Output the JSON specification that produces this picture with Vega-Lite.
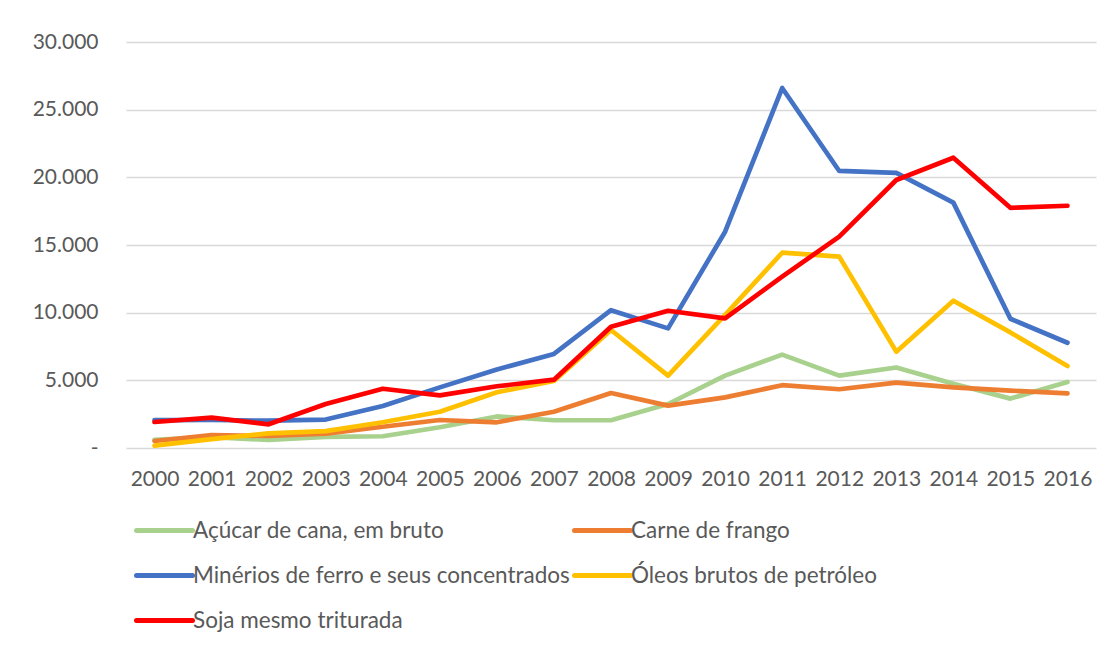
{
  "$schema": "https://vega.github.io/schema/vega-lite/v6.json",
  "autosize": {"type": "none"},
  "width": 970,
  "height": 406,
  "padding": {"left": 126, "top": 42, "right": 16, "bottom": 200},
  "background": "white",
  "config": {
    "font": "Lato",
    "view": {"stroke": null},
    "axis": {"labelFont": "Lato", "labelFontSize": 21, "labelColor": "#595959"}
  },
  "datasets": {
    "exports": [
      {"year": "2000", "product": "Açúcar de cana, em bruto", "value": 600},
      {"year": "2001", "product": "Açúcar de cana, em bruto", "value": 800},
      {"year": "2002", "product": "Açúcar de cana, em bruto", "value": 600},
      {"year": "2003", "product": "Açúcar de cana, em bruto", "value": 820},
      {"year": "2004", "product": "Açúcar de cana, em bruto", "value": 870},
      {"year": "2005", "product": "Açúcar de cana, em bruto", "value": 1530},
      {"year": "2006", "product": "Açúcar de cana, em bruto", "value": 2330},
      {"year": "2007", "product": "Açúcar de cana, em bruto", "value": 2050},
      {"year": "2008", "product": "Açúcar de cana, em bruto", "value": 2050},
      {"year": "2009", "product": "Açúcar de cana, em bruto", "value": 3250},
      {"year": "2010", "product": "Açúcar de cana, em bruto", "value": 5350},
      {"year": "2011", "product": "Açúcar de cana, em bruto", "value": 6900},
      {"year": "2012", "product": "Açúcar de cana, em bruto", "value": 5350},
      {"year": "2013", "product": "Açúcar de cana, em bruto", "value": 5950},
      {"year": "2014", "product": "Açúcar de cana, em bruto", "value": 4750},
      {"year": "2015", "product": "Açúcar de cana, em bruto", "value": 3650},
      {"year": "2016", "product": "Açúcar de cana, em bruto", "value": 4880},
      {"year": "2000", "product": "Carne de frango", "value": 520},
      {"year": "2001", "product": "Carne de frango", "value": 950},
      {"year": "2002", "product": "Carne de frango", "value": 890},
      {"year": "2003", "product": "Carne de frango", "value": 1060},
      {"year": "2004", "product": "Carne de frango", "value": 1570},
      {"year": "2005", "product": "Carne de frango", "value": 2070},
      {"year": "2006", "product": "Carne de frango", "value": 1900},
      {"year": "2007", "product": "Carne de frango", "value": 2680},
      {"year": "2008", "product": "Carne de frango", "value": 4060},
      {"year": "2009", "product": "Carne de frango", "value": 3130},
      {"year": "2010", "product": "Carne de frango", "value": 3740},
      {"year": "2011", "product": "Carne de frango", "value": 4640},
      {"year": "2012", "product": "Carne de frango", "value": 4340},
      {"year": "2013", "product": "Carne de frango", "value": 4830},
      {"year": "2014", "product": "Carne de frango", "value": 4480},
      {"year": "2015", "product": "Carne de frango", "value": 4240},
      {"year": "2016", "product": "Carne de frango", "value": 4040},
      {"year": "2000", "product": "Minérios de ferro e seus concentrados", "value": 2060},
      {"year": "2001", "product": "Minérios de ferro e seus concentrados", "value": 2070},
      {"year": "2002", "product": "Minérios de ferro e seus concentrados", "value": 2020},
      {"year": "2003", "product": "Minérios de ferro e seus concentrados", "value": 2100},
      {"year": "2004", "product": "Minérios de ferro e seus concentrados", "value": 3100},
      {"year": "2005", "product": "Minérios de ferro e seus concentrados", "value": 4480},
      {"year": "2006", "product": "Minérios de ferro e seus concentrados", "value": 5800},
      {"year": "2007", "product": "Minérios de ferro e seus concentrados", "value": 6950},
      {"year": "2008", "product": "Minérios de ferro e seus concentrados", "value": 10180},
      {"year": "2009", "product": "Minérios de ferro e seus concentrados", "value": 8840},
      {"year": "2010", "product": "Minérios de ferro e seus concentrados", "value": 15980},
      {"year": "2011", "product": "Minérios de ferro e seus concentrados", "value": 26600},
      {"year": "2012", "product": "Minérios de ferro e seus concentrados", "value": 20470},
      {"year": "2013", "product": "Minérios de ferro e seus concentrados", "value": 20330},
      {"year": "2014", "product": "Minérios de ferro e seus concentrados", "value": 18130},
      {"year": "2015", "product": "Minérios de ferro e seus concentrados", "value": 9550},
      {"year": "2016", "product": "Minérios de ferro e seus concentrados", "value": 7780},
      {"year": "2000", "product": "Óleos brutos de petróleo", "value": 170},
      {"year": "2001", "product": "Óleos brutos de petróleo", "value": 650},
      {"year": "2002", "product": "Óleos brutos de petróleo", "value": 1080},
      {"year": "2003", "product": "Óleos brutos de petróleo", "value": 1250},
      {"year": "2004", "product": "Óleos brutos de petróleo", "value": 1900},
      {"year": "2005", "product": "Óleos brutos de petróleo", "value": 2680},
      {"year": "2006", "product": "Óleos brutos de petróleo", "value": 4120},
      {"year": "2007", "product": "Óleos brutos de petróleo", "value": 4950},
      {"year": "2008", "product": "Óleos brutos de petróleo", "value": 8720},
      {"year": "2009", "product": "Óleos brutos de petróleo", "value": 5350},
      {"year": "2010", "product": "Óleos brutos de petróleo", "value": 9830},
      {"year": "2011", "product": "Óleos brutos de petróleo", "value": 14430},
      {"year": "2012", "product": "Óleos brutos de petróleo", "value": 14140},
      {"year": "2013", "product": "Óleos brutos de petróleo", "value": 7120},
      {"year": "2014", "product": "Óleos brutos de petróleo", "value": 10880},
      {"year": "2015", "product": "Óleos brutos de petróleo", "value": 8540},
      {"year": "2016", "product": "Óleos brutos de petróleo", "value": 6060},
      {"year": "2000", "product": "Soja mesmo triturada", "value": 1920},
      {"year": "2001", "product": "Soja mesmo triturada", "value": 2250},
      {"year": "2002", "product": "Soja mesmo triturada", "value": 1750},
      {"year": "2003", "product": "Soja mesmo triturada", "value": 3250},
      {"year": "2004", "product": "Soja mesmo triturada", "value": 4380},
      {"year": "2005", "product": "Soja mesmo triturada", "value": 3890},
      {"year": "2006", "product": "Soja mesmo triturada", "value": 4560},
      {"year": "2007", "product": "Soja mesmo triturada", "value": 5050},
      {"year": "2008", "product": "Soja mesmo triturada", "value": 8960},
      {"year": "2009", "product": "Soja mesmo triturada", "value": 10140},
      {"year": "2010", "product": "Soja mesmo triturada", "value": 9580},
      {"year": "2011", "product": "Soja mesmo triturada", "value": 12660},
      {"year": "2012", "product": "Soja mesmo triturada", "value": 15620},
      {"year": "2013", "product": "Soja mesmo triturada", "value": 19800},
      {"year": "2014", "product": "Soja mesmo triturada", "value": 21450},
      {"year": "2015", "product": "Soja mesmo triturada", "value": 17750},
      {"year": "2016", "product": "Soja mesmo triturada", "value": 17900}
    ]
  },
  "data": {"name": "exports"},
  "mark": {"type": "line", "strokeWidth": 4.7, "strokeCap": "round", "strokeJoin": "round"},
  "encoding": {
    "x": {
      "field": "year",
      "type": "ordinal",
      "scale": {"type": "point", "padding": 0.5},
      "axis": {"title": null, "labelAngle": 0, "domain": false, "ticks": false, "labelPadding": 20, "grid": false}
    },
    "y": {
      "field": "value",
      "type": "quantitative",
      "scale": {"domain": [0, 30000], "nice": false},
      "axis": {
        "title": null,
        "values": [0, 5000, 10000, 15000, 20000, 25000, 30000],
        "labelExpr": "datum.value == 0 ? '-\u2007' : replace(format(datum.value, ','), ',', '.')",
        "domain": false,
        "ticks": false,
        "labelPadding": 28,
        "grid": true,
        "gridColor": "#d9d9d9",
        "gridWidth": 1.5
      }
    },
    "color": {
      "field": "product",
      "type": "nominal",
      "sort": null,
      "scale": {
        "domain": ["Açúcar de cana, em bruto", "Carne de frango", "Minérios de ferro e seus concentrados", "Óleos brutos de petróleo", "Soja mesmo triturada"],
        "range": ["#A9D18E", "#ED7D31", "#4472C4", "#FFC000", "#FF0000"]
      },
      "legend": {
        "title": null,
        "orient": "none",
        "legendX": 16,
        "legendY": 466,
        "columns": 2,
        "direction": "horizontal",
        "symbolType": "M-1.4,0H1.4",
        "symbolSize": 1600,
        "symbolStrokeWidth": 5,
        "labelOffset": 6,
        "labelFont": "Lato",
        "labelFontSize": 22.5,
        "labelColor": "#595959",
        "labelLimit": 600,
        "columnPadding": -6,
        "rowPadding": 11,
        "padding": 0,
        "encode": {"symbols": {"update": {"strokeCap": {"value": "round"}}}}
      }
    }
  }
}
